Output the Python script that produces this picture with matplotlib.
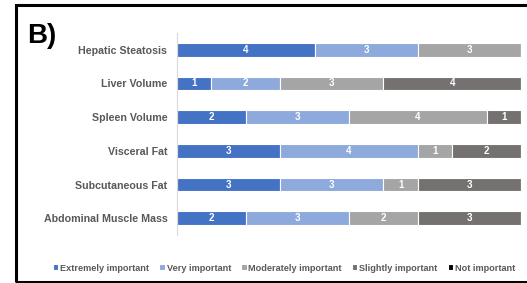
import numpy as np
import matplotlib.pyplot as plt
import matplotlib.patches as patches

plt.rcParams['font.family'] = ['Liberation Sans', 'DejaVu Sans']

categories = ["Hepatic Steatosis", "Liver Volume", "Spleen Volume",
              "Visceral Fat", "Subcutaneous Fat", "Abdominal Muscle Mass"]
levels = ["Extremely important", "Very important", "Moderately important",
          "Slightly important", "Not important"]
extremely = [4, 1, 2, 3, 3, 2]
very = [3, 2, 3, 4, 3, 3]
moderately = [3, 3, 4, 1, 1, 2]
slightly = [0, 4, 1, 2, 3, 3]
not_imp = [0, 0, 0, 0, 0, 0]
colors = ["#4472C4", "#8EA9DB", "#A5A5A5", "#767171", "#000000"]

fig = plt.figure(figsize=[5.27, 2.83], dpi=100)
ax = fig.add_axes([0.3359, 0.1696, 0.6528, 0.7138])

y = np.arange(len(categories))
left = np.zeros(len(categories))
for vals, name, col in zip([extremely, very, moderately, slightly, not_imp], levels, colors):
    vals = np.array(vals, dtype=float)
    ax.barh(y, vals, left=left, height=0.4, color=col, edgecolor="white",
            linewidth=0.8, label=name)
    for yi, v, l in zip(y, vals, left):
        if v > 0:
            ax.text(l + v / 2, yi, f"{int(v)}", ha="center", va="center",
                    color="white", fontsize=7, fontweight="bold")
    left += vals

ax.set_xlim(0, 10)
ax.set_ylim(5.5, -0.5)
ax.set_yticks(y)
ax.set_yticklabels(categories, fontsize=7.7, fontweight="bold", color="#595959")
ax.tick_params(axis="y", length=0, pad=7)
ax.set_xticks([])
for s in ["top", "right", "bottom"]:
    ax.spines[s].set_visible(False)
ax.spines["left"].set_color("#D9D9D9")
ax.spines["left"].set_linewidth(0.8)

leg = ax.legend(ncol=5, loc="center", bbox_to_anchor=(0.539, 0.053),
                bbox_transform=fig.transFigure, frameon=False,
                fontsize=6.6, handlelength=0.6, handleheight=0.6,
                handletextpad=0.2, columnspacing=1.1)
for t in leg.get_texts():
    t.set_color("#595959")
    t.set_fontweight("bold")

fig.text(0.051, 0.848, "B)", fontsize=20, fontweight="bold", va="baseline")

frame = patches.Rectangle((15.5 / 527, 1.5 / 283), 1.1, 1 - 1.5 / 283 - 5 / 283,
                          transform=fig.transFigure, fill=False,
                          edgecolor="black", linewidth=2.2, clip_on=False)
fig.patches.append(frame)

fig.savefig("out.png", dpi=100)
